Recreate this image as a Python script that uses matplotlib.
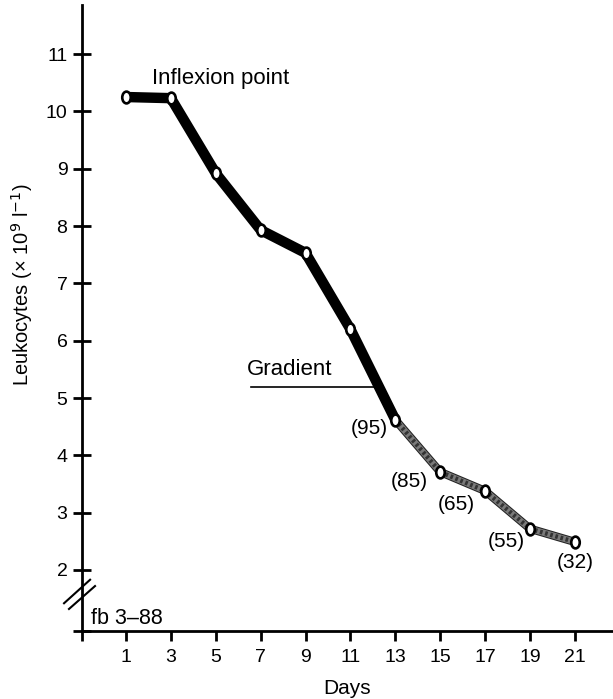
import numpy as np
import matplotlib
matplotlib.use("Agg")
import matplotlib.pyplot as plt
from matplotlib.path import Path
from matplotlib.transforms import Affine2D
import matplotlib.patheffects as pe

plt.rcParams['font.family'] = ['Liberation Sans', 'DejaVu Sans']

# Data
days = [1, 3, 5, 7, 9, 11, 13, 15, 17, 19, 21]
leukocytes = [10.25, 10.23, 8.92, 7.93, 7.53, 6.20, 4.62, 3.71, 3.38, 2.72, 2.49]
phase1_days = days[:7]
phase1_vals = leukocytes[:7]
phase2_days = days[6:]
phase2_vals = leukocytes[6:]
labels_days = [13, 15, 17, 19, 21]
labels_text = ["(95)", "(85)", "(65)", "(55)", "(32)"]
labels_offsets = [(-19, -6), (-22, -7), (-21, -10), (-17, -9), (0, -15)]
xtick_vals = [1, 3, 5, 7, 9, 11, 13, 15, 17, 19, 21]
ytick_vals = [2, 3, 4, 5, 6, 7, 8, 9, 10, 11]

fig = plt.figure(figsize=(6.13, 6.99), dpi=100)
ax = fig.add_axes([82/613, 68/699, 1 - 82/613, (631 - 5)/699])

xmin, xmax = -0.96, 22.7
ymin, ymax = 0.936, 11.855
ax.set_xlim(xmin, xmax)
ax.set_ylim(ymin, ymax)

for s in ['top', 'right']:
    ax.spines[s].set_visible(False)
for s in ['left', 'bottom']:
    ax.spines[s].set_linewidth(2.0)

# ticks
ax.set_xticks([xmin] + xtick_vals)
ax.set_xticklabels([''] + [str(v) for v in xtick_vals])
ax.set_yticks([ymin] + ytick_vals)
ax.set_yticklabels([''] + [str(v) for v in ytick_vals])
ax.tick_params(axis='x', direction='out', length=7, width=2, labelsize=14, pad=6)
ax.tick_params(axis='y', direction='inout', length=13, width=2, labelsize=14, pad=4)

# marker: vertical ellipse
ell = Path.unit_circle().transformed(Affine2D().scale(0.72, 1.0))

# phase 1 thick black
ax.plot(phase1_days, phase1_vals, color='black', lw=7.5, solid_capstyle='butt', zorder=3)
# phase 2 stippled gray
ax.plot(phase2_days, phase2_vals, color='#7a7a7a', lw=4.5, solid_capstyle='butt', zorder=3,
        path_effects=[pe.Stroke(linewidth=6.0, foreground='#222222'), pe.Normal()])
ax.plot(phase2_days, phase2_vals, color='#333333', lw=3.2, ls=(0, (0.6, 0.6)), zorder=3)
# markers
ax.plot(days, leukocytes, ls='none', marker=ell, markersize=8.5, markerfacecolor='white',
        markeredgecolor='black', markeredgewidth=1.9, zorder=4)

# percentages labels
for d, t, off in zip(labels_days, labels_text, labels_offsets):
    v = leukocytes[days.index(d)]
    ax.annotate(t, (d, v), xytext=off, textcoords='offset points', ha='center', va='center',
                fontsize=15)

# Inflexion point
ax.text(2.16, 10.48, "Inflexion point", fontsize=16, ha='left', va='baseline')

# Gradient
gy = 5.19
ax.text(6.39, 5.40, "Gradient", fontsize=16, ha='left', va='baseline')
xs = np.array(phase1_vals[::-1])
gx_end = np.interp(gy, xs, np.array(phase1_days[::-1])) - 0.2
ax.plot([6.57, gx_end], [gy, gy], color='black', lw=1.2, zorder=2)

# fb label
ax.text(-0.56, 1.06, "fb 3\u201388", fontsize=15.5, ha='left', va='baseline')

# axis break marks
ax.plot([-1.76, -0.60], [1.42, 1.83], color='black', lw=1.5, clip_on=False)
ax.plot([-1.54, -0.38], [1.32, 1.72], color='black', lw=1.5, clip_on=False)

ax.set_xlabel("Days", fontsize=15)
ax.xaxis.set_label_coords(0.499, -0.076)
ax.set_ylabel("Leukocytes (\u00d7 10$^{9}$ l$^{-1}$)", fontsize=14.5)
ax.yaxis.set_label_coords(-0.088, 0.553)

fig.savefig("out.png", dpi=100)
